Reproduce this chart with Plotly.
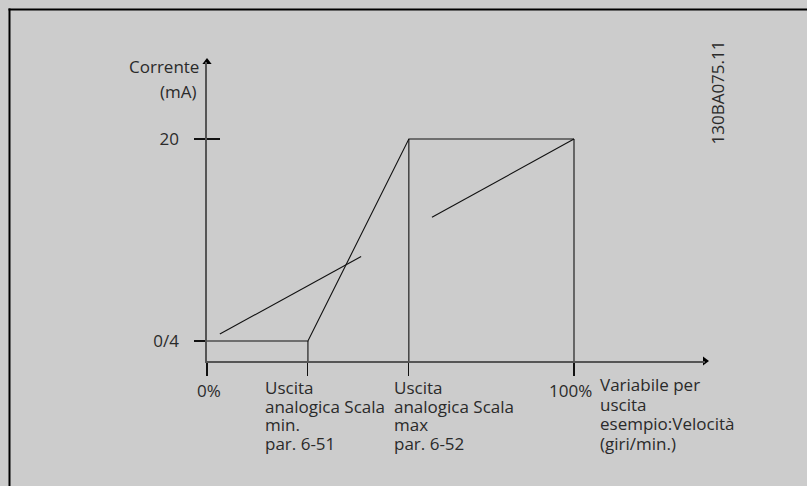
import plotly.graph_objects as go

# ---------------- data ----------------
# output curve (x in % of variable, y in mA)
curve_x = [0, 27.5, 55, 100]
curve_y = [4, 4, 20, 20]
# the two example segments of the 0-100% -> 4-20 mA line
seg1_x = [3.5, 42.0]
seg1_y = [4.55, 10.7]
seg2_x = [61.3, 100]
seg2_y = [13.8, 20]
# axis ticks
x_ticks = [0, 27.5, 55, 100]
y_ticks = [4, 20]
y_ticktext = ["0/4", "20"]
y_title = ["Corrente", "(mA)"]
label_0 = "0%"
label_100 = "100%"
label_min = ["Uscita", "analogica Scala", "min.", "par. 6-51"]
label_max = ["Uscita", "analogica Scala", "max", "par. 6-52"]
label_var = ["Variabile per", "uscita", "esempio:Velocità", "(giri/min.)"]
code_text = "130BA075.11"

# ---------------- layout constants ----------------
W, H = 807, 486
PL, PR, PT, PB = 207, 705, 62, 361   # plot area edges in px
X_RANGE = [0, (PR - PL) / 3.67]
Y_RANGE = [4 - (PB - 341) / 12.625, 4 + (341 - PT) / 12.625]
BG = "#cccccc"
AX = "#555555"
INK = "#111111"
TXT = "#2a2a2a"
FONT = "Open Sans"
FS = 17


def px(xp):
    return (xp - PL) / (PR - PL)


def py(yp):
    return (PB - yp) / (PB - PT)


fig = go.Figure()

line_style = dict(color=INK, width=1.1)
fig.add_trace(go.Scatter(x=curve_x, y=curve_y, mode="lines", line=line_style,
                         hoverinfo="skip", showlegend=False))
# drop lines from the curve knees to the x axis
for xv, yv in zip(curve_x[1:], curve_y[1:]):
    fig.add_trace(go.Scatter(x=[xv, xv], y=[yv, Y_RANGE[0]], mode="lines",
                             line=line_style, hoverinfo="skip", showlegend=False))
fig.add_trace(go.Scatter(x=seg1_x, y=seg1_y, mode="lines", line=line_style,
                         hoverinfo="skip", showlegend=False))
fig.add_trace(go.Scatter(x=seg2_x, y=seg2_y, mode="lines", line=line_style,
                         hoverinfo="skip", showlegend=False))
# axis arrowheads
fig.add_trace(go.Scatter(x=[X_RANGE[0]], y=[Y_RANGE[1]], mode="markers",
                         marker=dict(symbol="triangle-up", size=8, color="#000"),
                         cliponaxis=False, hoverinfo="skip", showlegend=False))
fig.add_trace(go.Scatter(x=[X_RANGE[1]], y=[Y_RANGE[0]], mode="markers",
                         marker=dict(symbol="triangle-right", size=8, color="#000"),
                         cliponaxis=False, hoverinfo="skip", showlegend=False))
# overlay axis carrying the inside half of the "20" tick
fig.add_trace(go.Scatter(x=[None], y=[None], yaxis="y2", showlegend=False,
                         hoverinfo="skip"))

fig.update_layout(
    width=W, height=H,
    margin=dict(l=PL, r=W - PR, t=PT, b=H - PB),
    paper_bgcolor=BG, plot_bgcolor=BG,
    showlegend=False,
    xaxis=dict(range=X_RANGE, showgrid=False, zeroline=False,
               showline=True, linecolor=AX, linewidth=1.6,
               ticks="outside", ticklen=13, tickwidth=1.1, tickcolor=INK,
               tickvals=x_ticks, showticklabels=False, fixedrange=True),
    yaxis=dict(range=Y_RANGE, showgrid=False, zeroline=False,
               showline=True, linecolor=AX, linewidth=1.6,
               ticks="outside", ticklen=11, tickwidth=1.1, tickcolor=INK,
               tickvals=y_ticks, ticktext=y_ticktext,
               tickfont=dict(family=FONT, size=FS, color=TXT),
               ticklabelstandoff=12, fixedrange=True),
    yaxis2=dict(range=Y_RANGE, overlaying="y", side="left", showgrid=False,
                zeroline=False, showline=False, ticks="inside", ticklen=13,
                tickwidth=1.1, tickcolor=INK, tickvals=[y_ticks[1]],
                showticklabels=False, fixedrange=True),
)

# frame lines (top and left)
fig.add_shape(type="line", xref="paper", yref="paper",
              x0=px(8.5), x1=px(W + 5), y0=py(9.5), y1=py(9.5),
              line=dict(color="#000", width=2))
fig.add_shape(type="line", xref="paper", yref="paper",
              x0=px(9.5), x1=px(9.5), y0=py(8.5), y1=py(H + 5),
              line=dict(color="#000", width=2))

ann = []


def text(t, x, baseline, anchor="left", size=FS):
    ann.append(dict(text=t, xref="paper", yref="paper", x=px(x),
                    y=py(baseline - 0.32 * size), xanchor=anchor,
                    yanchor="middle", showarrow=False,
                    font=dict(family=FONT, size=size, color=TXT)))


def block(lines, x, first_baseline, spacing, size=FS):
    """multi-line left-aligned block with tight line spacing"""
    base = spacing / 1.3
    body = "<br>".join(f"<span style='font-size:{size}px'>{s}</span>" for s in lines)
    ann.append(dict(text=body, xref="paper", yref="paper", x=px(x),
                    y=py(first_baseline - 0.72 * size), xanchor="left",
                    yanchor="top", align="left", showarrow=False,
                    font=dict(family=FONT, size=base, color=TXT)))


text(y_title[0], 201, 72, "right")
text(y_title[1], 199, 96.5, "right")
text(label_0, 209, 396, "center")
text(label_100, 570, 396, "center")
block(label_min, 263, 386, 18.7)
block(label_max, 392, 386, 18.7)
block(label_var, 598, 383, 19.5)

ann.append(dict(text=code_text, xref="paper", yref="paper", x=px(717),
                y=py(92.5), xanchor="center", yanchor="middle", textangle=-90,
                showarrow=False, font=dict(family=FONT, size=17, color=TXT)))
fig.update_layout(annotations=ann)

fig.write_html("out.html",
               config={"displayModeBar": False, "staticPlot": True},
               post_script="document.body.style.margin='0';"
                           "document.body.style.background='#cccccc';")
